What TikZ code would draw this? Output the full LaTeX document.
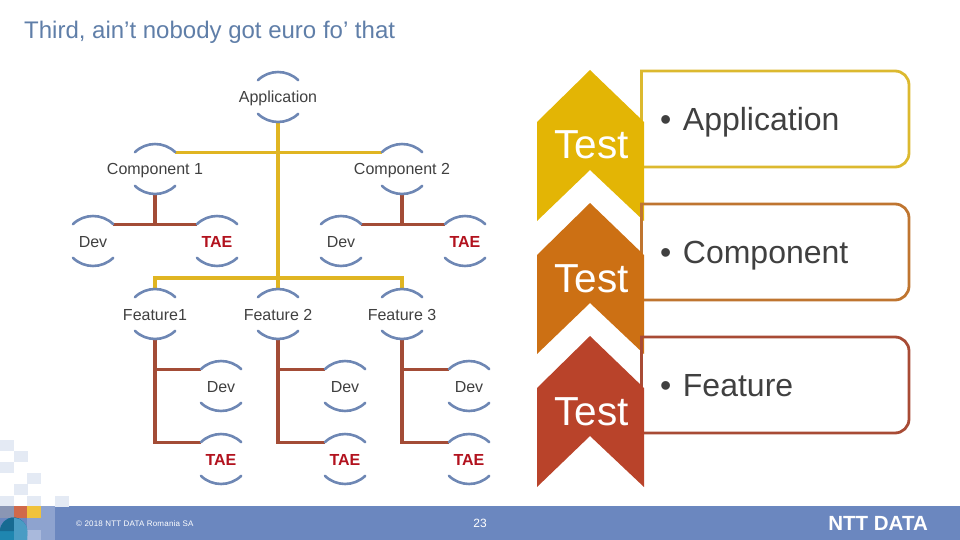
\documentclass[tikz,border=0pt]{standalone}
\usepackage{fontspec}
\setmainfont{Liberation Sans}

\definecolor{nttblue}{HTML}{6B87BF}
\definecolor{arcblue}{HTML}{6E87B4}
\definecolor{titleblue}{HTML}{5F7EA8}
\definecolor{busyellow}{HTML}{E0B522}
\definecolor{busbrown}{HTML}{A34C36}
\definecolor{labelgray}{HTML}{404040}
\definecolor{taered}{HTML}{B2121E}
\definecolor{chevyellow}{HTML}{E3B505}
\definecolor{chevorange}{HTML}{CC7014}
\definecolor{chevred}{HTML}{B9432A}
\definecolor{boxyellow}{HTML}{DCB92F}
\definecolor{boxorange}{HTML}{BF7530}
\definecolor{boxred}{HTML}{A84B35}
\definecolor{tilepale}{HTML}{E4EAF4}
\definecolor{tilered}{HTML}{D0694A}
\definecolor{tilegold}{HTML}{F0C23C}
\definecolor{tileblue}{HTML}{8EA3CF}
\definecolor{tilegray}{HTML}{8A96B4}
\definecolor{tilelight}{HTML}{A9B9DC}
\definecolor{tileteal}{HTML}{1F86B0}
\definecolor{tiledark}{HTML}{176A92}
\definecolor{tilesky}{HTML}{4A9CC4}

\tikzset{
  every label/.style={font=\fontsize{16}{16}\selectfont,text=labelgray,text height=12pt,text depth=0pt,inner sep=0pt},
  member/.style={circle,inner sep=0pt,minimum size=52pt},
  taetext/.style={font=\fontsize{16}{16}\selectfont\bfseries,text=taered},
  arcline/.style={arcblue,line width=2.6pt,line cap=round},
  yellowbus/.style={busyellow,line width=3.2pt},
  brownbus/.style={busbrown,line width=3.2pt},
}

\begin{document}
\begin{tikzpicture}[x=1pt,y=-1pt]
        \useasboundingbox (0,0) rectangle (960,540);

        % title
        \node[anchor=west,inner sep=0pt,text=titleblue,font=\fontsize{24}{24}\selectfont] (title) at (24,32) {Third, ain’t nobody got euro fo’ that};

        % the tree
        \node[member,label={center:Application}] (app) at (278,97) {};
        \node[member,label={center:Component 1}] (comp1) at (155,169) {};
        \node[member,label={center:Component 2}] (comp2) at (402,169) {};
        \node[member,label={center:Dev}] (dev1) at (93,241) {};
        \node[member,label={[taetext]center:TAE}] (tae1) at (217,241) {};
        \node[member,label={center:Dev}] (dev2) at (341,241) {};
        \node[member,label={[taetext]center:TAE}] (tae2) at (465,241) {};
        \node[member,label={center:Feature1}] (feat1) at (155,314) {};
        \node[member,label={center:Feature 2}] (feat2) at (278,314) {};
        \node[member,label={center:Feature 3}] (feat3) at (402,314) {};
        \node[member,label={center:Dev}] (dev3) at (221,386) {};
        \node[member,label={center:Dev}] (dev4) at (345,386) {};
        \node[member,label={center:Dev}] (dev5) at (469,386) {};
        \node[member,label={[taetext]center:TAE}] (tae3) at (221,459) {};
        \node[member,label={[taetext]center:TAE}] (tae4) at (345,459) {};
        \node[member,label={[taetext]center:TAE}] (tae5) at (469,459) {};

        \coordinate (featbus) at (278,278);

        % brown links
        \draw[brownbus] (dev1.40) -- (tae1.140);
        \draw[brownbus] (comp1.south) -- (comp1.south |- tae1.140);
        \draw[brownbus] (dev2.40) -- (tae2.140);
        \draw[brownbus] (comp2.south) -- (comp2.south |- tae2.140);
        \draw[brownbus] (feat1.south) |- (dev3.140);
        \draw[brownbus] (feat1.south) |- (tae3.140);
        \draw[brownbus] (feat2.south) |- (dev4.140);
        \draw[brownbus] (feat2.south) |- (tae4.140);
        \draw[brownbus] (feat3.south) |- (dev5.140);
        \draw[brownbus] (feat3.south) |- (tae5.140);

        % yellow links
        \draw[yellowbus] (comp1.40) -- (comp2.140);
        \draw[yellowbus] (app.south) -- (feat2.north);
        \draw[yellowbus] (feat1.north) |- (featbus) -| (feat3.north);

        % the two arcs of every member
        \foreach \n in {app,comp1,comp2,dev1,tae1,dev2,tae2,feat1,feat2,feat3,dev3,tae3,dev4,tae4,dev5,tae5} {
                \draw[arcline] (\n.140) arc (134:46:29pt);
                \draw[arcline] (\n.220) arc (226:314:29pt);
        }

        % chevrons and their boxes
        \foreach \y/\i/\chev/\boxc/\txt in {0/a/chevyellow/boxyellow/Application,133/b/chevorange/boxorange/Component,266/c/chevred/boxred/Feature} {
                \draw[\boxc,line width=2.8pt,shift={(0,\y)}] (641.5,167) -- (641.5,71)
                        [rounded corners=14pt] -- (909,71) -- (909,167) [sharp corners] -- (641.5,167);
                \fill[\chev,shift={(0,\y)}] (590,70) -- (644,122) -- (644,221) -- (590,170) -- (537,221) -- (537,122) -- cycle;
                \node[anchor=base,text=white,font=\fontsize{40.5}{41}\selectfont,inner sep=0pt] (test\i) at (591.5,159+\y) {Test};
                \node[anchor=base west,inner sep=0pt,text=labelgray,font=\fontsize{32}{32}\selectfont] (item\i) at (660,130.5+\y) {•\hspace{0.36em}\txt};
        }

        % footer
        \fill[nttblue] (0,506) rectangle (960,540);
        \foreach \x/\y in {0/440,14/451,0/462,27/473,14/484,0/496,27/496,55/496} {
                \fill[tilepale] (\x,\y) rectangle ++(13.7,10.8);
        }
        \fill[tilegray] (0,506) rectangle (14,518);
        \fill[tilered] (14,506) rectangle (27,518);
        \fill[tilegold] (27,506) rectangle (41,518);
        \fill[tileblue] (41,506) rectangle (55,518);
        \fill[tileblue] (27,518) rectangle (55,530);
        \fill[tilelight] (27,530) rectangle (41,540);
        \fill[tileblue] (41,530) rectangle (55,540);
        \fill[tileteal] (0,540) -- (0,531) arc (180:0:13.5pt) -- (27,540) -- cycle;
        \fill[tiledark] (0,531) arc (180:0:13.5pt) -- cycle;
        \fill[tilesky] (14,518) arc (90:0:13.5pt) -- (27,540) -- (14,540) -- cycle;
        \node[anchor=west,inner sep=0pt,text=white,font=\fontsize{8}{8}\selectfont] (copy) at (76,524) {\addfontfeature{LetterSpace=2.5}© 2018 NTT DATA Romania SA};
        \node[inner sep=0pt,text=white,font=\fontsize{12}{12}\selectfont] (page) at (480,523) {23};
        \node[anchor=east,inner sep=0pt,text=white,font=\fontsize{20.5}{20.5}\selectfont\bfseries] (logo) at (928,523.5) {NTT DATA};
\end{tikzpicture}
\end{document}
